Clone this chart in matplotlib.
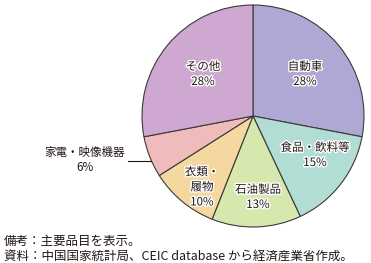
import matplotlib
matplotlib.use("Agg")
import matplotlib.pyplot as plt
import matplotlib.patheffects as pe

plt.rcParams['font.family'] = ['Noto Sans CJK JP', 'DejaVu Sans']

# データ
categories = ['自動車', '食品・飲料等', '石油製品', '衣類・\n履物', '家電・映像機器', 'その他']
shares = [28, 15, 13, 10, 6, 28]
colors = ['#afa8d4', '#b1ddd4', '#d6e8ae', '#f5d7a0', '#f0bbbb', '#cfa8d2']

W, H = 371, 263
fig = plt.figure(figsize=(W / 100, H / 100), dpi=100)
ax = fig.add_axes([0, 0, 1, 1])

cx, cy, r = 253, H - 116, 111
ax.pie(shares, colors=colors, startangle=90, counterclock=False,
       center=(cx, cy), radius=r, frame=True,
       wedgeprops=dict(edgecolor='#3a3a3a', linewidth=0.8))
ax.set_xlim(0, W)
ax.set_ylim(0, H)
ax.set_aspect('equal')
ax.axis('off')

txt = '#231815'
halo = [pe.withStroke(linewidth=2, foreground='white')]
# ラベル位置 (画像座標)
label_pos = [(305, 74), (315, 155), (258, 197), (202, 187), (85, 160), (203, 74)]
for i, (cat, val) in enumerate(zip(categories, shares)):
    x, y = label_pos[i]
    if i == 4:
        ax.text(x, H - y, f'{cat}\n{val}%', ha='center', va='center',
                fontsize=8.3, color=txt, linespacing=1.25)
    else:
        ax.text(x, H - y, f'{cat}\n{val}%', ha='center', va='center',
                fontsize=8.3, color=txt, linespacing=1.2, path_effects=halo)

# 家電の引き出し線
ax.plot([128, 151], [H - 161, H - 161], color='#231815', linewidth=0.8)

fig.text(4 / W, 1 - 241 / H, '備考：主要品目を表示。', fontsize=9, color=txt, va='center')
fig.text(4 / W, 1 - 256 / H, '資料：中国国家統計局、CEIC database から経済産業省作成。',
         fontsize=9, color=txt, va='center')

fig.savefig('out.png', dpi=100)
